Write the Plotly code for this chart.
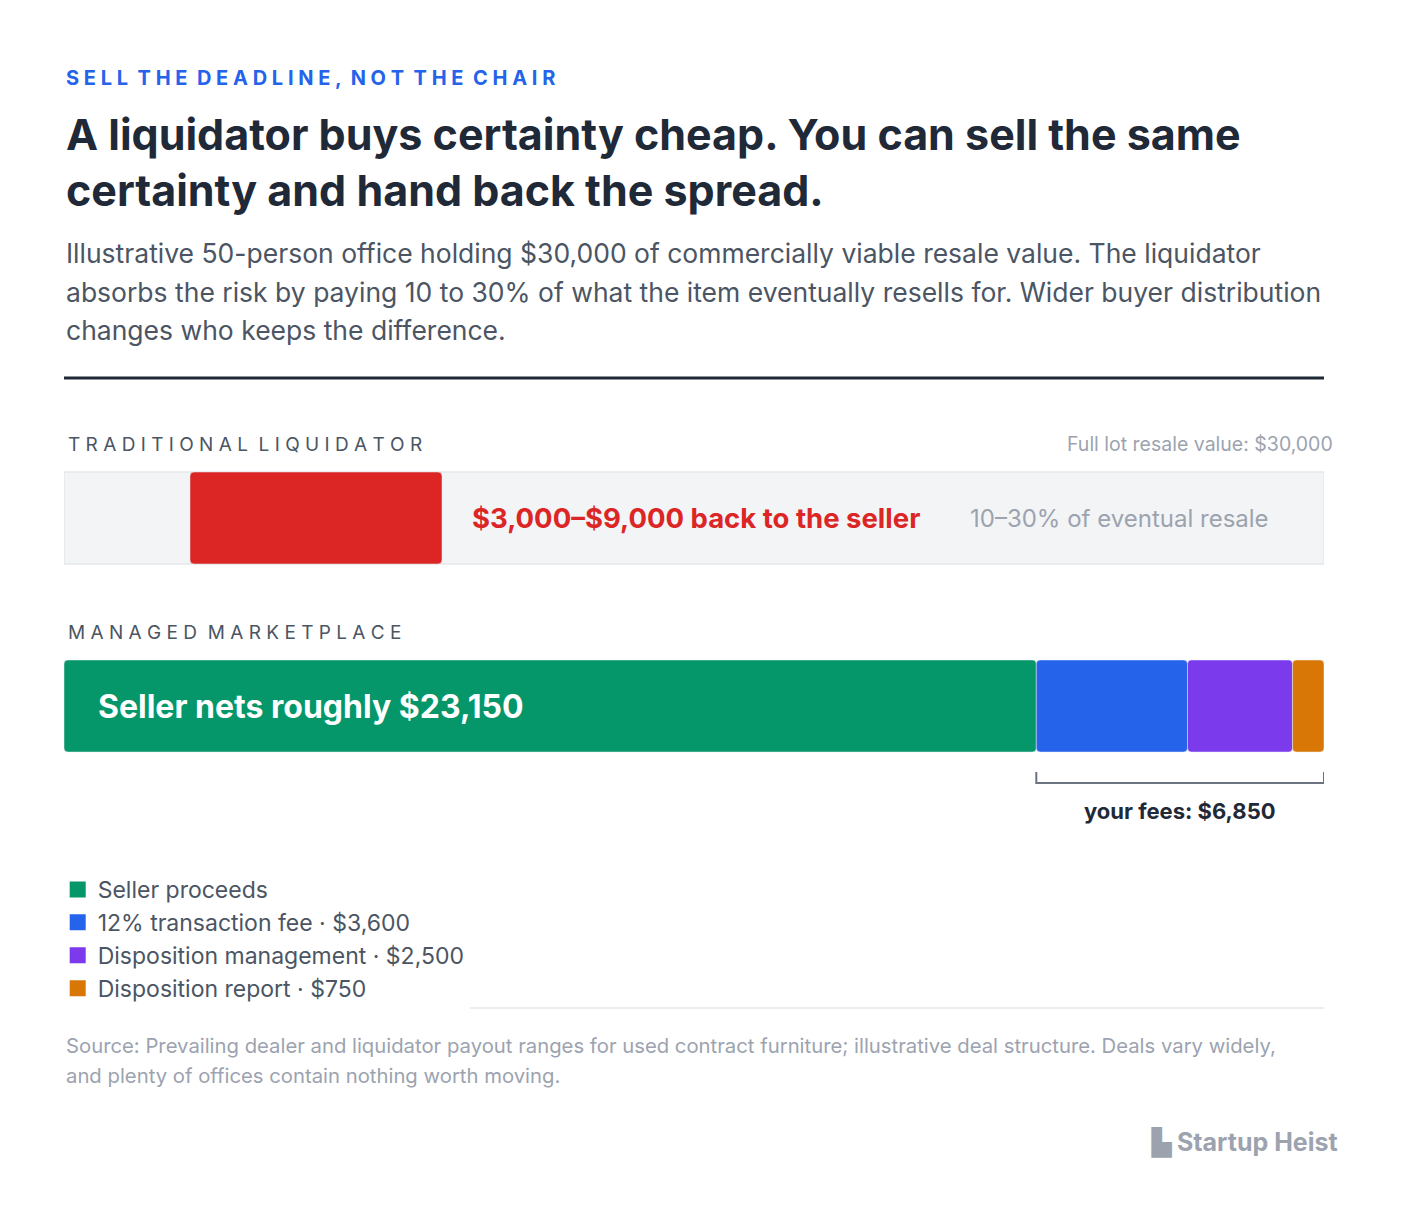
import plotly.graph_objects as go

LOT = 30000
liq_range = [3000, 9000]
segments = ["Seller proceeds", "12% transaction fee · $3,600", "Disposition management · $2,500", "Disposition report · $750"]
values = [23150, 3600, 2500, 750]
colors = ["#059669", "#2563eb", "#7c3aed", "#d97706"]
FONT = "Inter"

W, H = 1408, 1228
OFF = 8  # page body margin
L, R = 64 - OFF, 1324 - OFF

def px(x):
    return (x - OFF - L) / (R - L)

def py(y):
    return y - OFF

fig = go.Figure()

# liquidator bar
fig.add_trace(go.Bar(y=[py(518)], x=[liq_range[1] - liq_range[0]], base=[liq_range[0]], width=92,
                     orientation="h", marker_color="#dc2626", showlegend=False, hoverinfo="skip"))

# marketplace stack
start = 0
for name, v, c in zip(segments, values, colors):
    fig.add_trace(go.Bar(y=[py(706)], x=[v], base=[start], width=92, orientation="h",
                         marker_color=c, showlegend=False, hoverinfo="skip"))
    fig.add_trace(go.Scatter(x=[None], y=[None], mode="markers", name=name,
                             marker=dict(symbol="square", size=20, color=c)))
    start += v

shapes = [
    dict(type="rect", xref="x", yref="y", x0=0, x1=LOT, y0=py(472), y1=py(564),
         fillcolor="#f3f4f6", line=dict(color="#e5e7eb", width=1.5), layer="below"),
    dict(type="line", xref="paper", yref="y", x0=0, x1=1, y0=py(378), y1=py(378),
         line=dict(color="#1f2937", width=3)),
    dict(type="line", xref="paper", yref="y", x0=0, x1=1, y0=py(1008), y1=py(1008),
         line=dict(color="#e5e7eb", width=1.5)),
    dict(type="path", xref="x", yref="y",
         path=f"M {values[0]},{py(772)} L {values[0]},{py(783)} L {LOT},{py(783)} L {LOT},{py(772)}",
         line=dict(color="#6b7280", width=2)),
]

def ann(x, y, text, size, color, bold=False, anchor="left"):
    return dict(xref="paper", yref="y", x=px(x), y=py(y), xanchor=anchor, yanchor="middle",
                text=f"<b>{text}</b>" if bold else text, showarrow=False,
                font=dict(family=FONT, size=size, color=color), align="left")

annotations = [
    ann(64, 78, "S E L L  T H E  D E A D L I N E ,  N O T  T H E  C H A I R", 20, "#2563eb", True),
    ann(64, 134, "A liquidator buys certainty cheap. You can sell the same", 43, "#1f2937", True),
    ann(64, 190, "certainty and hand back the spread.", 43, "#1f2937", True),
    ann(64, 253, "Illustrative 50-person office holding $30,000 of commercially viable resale value. The liquidator", 26.5, "#4b5563"),
    ann(64, 292, "absorbs the risk by paying 10 to 30% of what the item eventually resells for. Wider buyer distribution", 26.5, "#4b5563"),
    ann(64, 330, "changes who keeps the difference.", 26.5, "#4b5563"),
    ann(66, 444, "T R A D I T I O N A L  L I Q U I D A T O R", 19, "#4b5563"),
    ann(1335, 444, "Full lot resale value: $30,000", 19.5, "#9ca3af", anchor="right"),
    ann(470, 518, "$3,000–$9,000 back to the seller", 27.5, "#dc2626", True),
    ann(968, 518, "10–30% of eventual resale", 24, "#9ca3af"),
    ann(66, 632, "M A N A G E D  M A R K E T P L A C E", 19, "#4b5563"),
    ann(96, 706, "Seller nets roughly $23,150", 32, "white", True),
    ann(1180, 811, "your fees: $6,850", 22, "#1f2937", True, anchor="center"),
    ann(64, 1045, "Source: Prevailing dealer and liquidator payout ranges for used contract furniture; illustrative deal structure. Deals vary widely,", 20.3, "#9ca3af"),
    ann(64, 1075, "and plenty of offices contain nothing worth moving.", 20.3, "#9ca3af"),
    ann(1340, 1142, "▙ Startup Heist", 25, "#9ca3af", True, anchor="right"),
]

fig.update_layout(
    width=W, height=H, margin=dict(l=L, r=W - R, t=0, b=0),
    paper_bgcolor="white", plot_bgcolor="white", barmode="overlay", barcornerradius=4,
    xaxis=dict(range=[0, LOT], visible=False, fixedrange=True),
    yaxis=dict(range=[H, 0], visible=False, fixedrange=True),
    shapes=shapes, annotations=annotations,
    legend=dict(orientation="h", x=-0.005, xanchor="left", y=1 - py(868) / H, yanchor="top",
                font=dict(family=FONT, size=23, color="#4b5563"), traceorder="normal",
                itemwidth=30, tracegroupgap=30),
    font=dict(family=FONT),
)

fig.write_html("out.html")
